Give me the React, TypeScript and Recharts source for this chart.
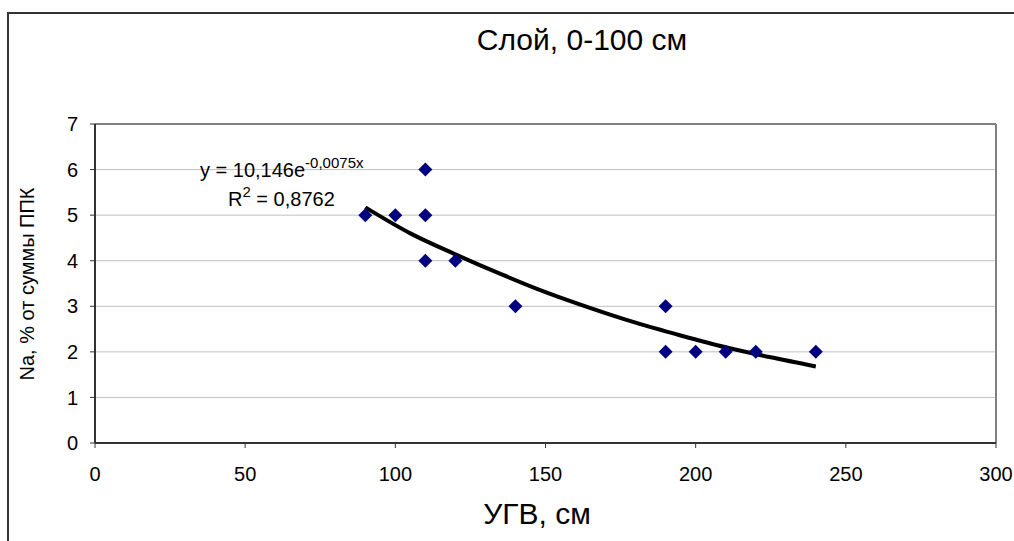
import React from 'react';
import {
  ComposedChart,
  Scatter,
  Line,
  XAxis,
  YAxis,
  CartesianGrid,
  ReferenceLine
} from 'recharts';

// measured points (УГВ, Na)
const ugv = [90, 100, 110, 110, 110, 120, 140, 190, 190, 200, 210, 220, 240];
const na = [5, 5, 6, 5, 4, 4, 3, 3, 2, 2, 2, 2, 2];

// trend curve
const trendX = [90, 105, 120, 135, 150, 165, 180, 195, 210, 225, 240];
const trendY = [5.17, 4.6, 4.14, 3.71, 3.31, 2.96, 2.64, 2.36, 2.1, 1.88, 1.68];

const xTicks = [0, 50, 100, 150, 200, 250, 300];
const yTicks = [0, 1, 2, 3, 4, 5, 6, 7];

const points = ugv.map((x, i) => ({ x, y: na[i] }));
const trend = trendX.map((x, i) => ({ x, t: trendY[i] }));

const font = '"Liberation Sans", Arial, sans-serif';

const Diamond = (props: any) => {
  const { cx, cy } = props;
  const r = 7;
  return (
    <polygon
      points={`${cx},${cy - r} ${cx + r},${cy} ${cx},${cy + r} ${cx - r},${cy}`}
      fill="#000080"
    />
  );
};

export default function App() {
  return (
    <div style={{ position: 'absolute', left: 0, top: 0, width: 1014, height: 541, background: '#fff', fontFamily: font, overflow: 'hidden' }}>
      {/* outer chart border (only top/left are visible in the frame) */}
      <div style={{ position: 'absolute', left: 7, top: 12, width: 1100, height: 600, borderLeft: '2px solid #333', borderTop: '2px solid #333' }} />
      <ComposedChart
        width={1014}
        height={541}
        data={trend}
        margin={{ top: 124, right: 18, left: 35, bottom: 58 }}
        style={{ position: 'absolute', left: 0, top: 0 }}
      >
        <CartesianGrid vertical={false} stroke="#c0c0c0" strokeWidth={1} />
        <XAxis
          type="number"
          dataKey="x"
          domain={[0, 300]}
          ticks={xTicks}
          height={40}
          tickSize={5}
          tickMargin={19}
          axisLine={{ stroke: '#333', strokeWidth: 2 }}
          tickLine={{ stroke: '#333' }}
          tick={{ fill: '#000', fontSize: 20, fontFamily: font }}
        />
        <YAxis
          type="number"
          domain={[0, 7]}
          ticks={yTicks}
          width={60}
          tickSize={5}
          tickMargin={12}
          axisLine={{ stroke: '#333', strokeWidth: 2 }}
          tickLine={{ stroke: '#333' }}
          tick={{ fill: '#000', fontSize: 20, fontFamily: font }}
        />
        <ReferenceLine y={7} stroke="#808080" strokeWidth={2} />
        <ReferenceLine x={300} stroke="#808080" strokeWidth={2} />
        <Scatter data={points} dataKey="y" shape={<Diamond />} isAnimationActive={false} />
        <Line
          data={trend}
          dataKey="t"
          type="monotone"
          stroke="#000"
          strokeWidth={4}
          dot={false}
          activeDot={false}
          isAnimationActive={false}
        />
      </ComposedChart>
      <div style={{ position: 'absolute', left: 0, width: 1164, top: 22, textAlign: 'center', fontSize: 30, lineHeight: '36px' }}>
        Слой, 0-100 см
      </div>
      <div style={{ position: 'absolute', left: 200, top: 158, fontSize: 20, lineHeight: '24px', whiteSpace: 'nowrap' }}>
        y = 10,146e<span style={{ fontSize: 15, position: 'relative', top: -9 }}>-0,0075x</span>
      </div>
      <div style={{ position: 'absolute', left: 228, top: 187, fontSize: 20, lineHeight: '24px', whiteSpace: 'nowrap' }}>
        R<span style={{ fontSize: 15, position: 'relative', top: -9 }}>2</span> = 0,8762
      </div>
      <div style={{ position: 'absolute', left: 0, width: 1074, top: 496, textAlign: 'center', fontSize: 30, lineHeight: '36px' }}>
        УГВ, см
      </div>
      <div style={{ position: 'absolute', left: 27, top: 284, width: 0, height: 0 }}>
        <div style={{ position: 'absolute', left: -160, top: -12, width: 320, textAlign: 'center', fontSize: 20, lineHeight: '24px', transform: 'rotate(-90deg)', whiteSpace: 'nowrap' }}>
          Na, % от суммы ППК
        </div>
      </div>
    </div>
  );
}
